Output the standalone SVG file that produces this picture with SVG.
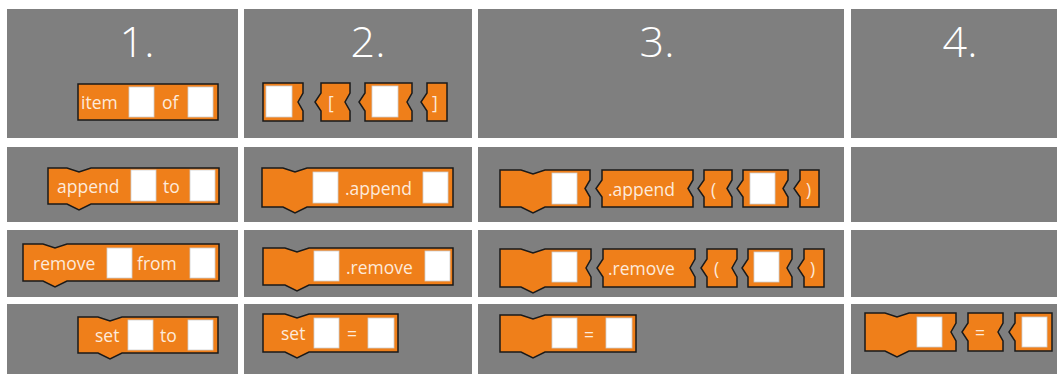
<svg xmlns="http://www.w3.org/2000/svg" width="1057" height="374" viewBox="0 0 1057 374">
<style>
.cell{fill:#7f7f7f}
.hdr{font-family:"Open Sans","Noto Sans",sans-serif;font-weight:300;font-size:43px;fill:#ffffff;text-anchor:middle}
.blk{fill:#ef7f1a;stroke:#1a1a1a;stroke-width:1.5;stroke-linejoin:miter}
.box{fill:#ffffff;stroke:#d0d0d0;stroke-width:0.8}
.lbl{font-family:"Open Sans","Noto Sans",sans-serif;font-size:17.5px;fill:#fdeadb}
</style>
<rect width="1057" height="374" fill="#ffffff"/>
<g id="grid">
<rect class="cell" x="7" y="9" width="231" height="129"/>
<rect class="cell" x="244" y="9" width="228" height="129"/>
<rect class="cell" x="478" y="9" width="366" height="129"/>
<rect class="cell" x="851" y="9" width="206" height="129"/>
<rect class="cell" x="7" y="147" width="231" height="75"/>
<rect class="cell" x="244" y="147" width="228" height="75"/>
<rect class="cell" x="478" y="147" width="366" height="75"/>
<rect class="cell" x="851" y="147" width="206" height="75"/>
<rect class="cell" x="7" y="230" width="231" height="67"/>
<rect class="cell" x="244" y="230" width="228" height="67"/>
<rect class="cell" x="478" y="230" width="366" height="67"/>
<rect class="cell" x="851" y="230" width="206" height="67"/>
<rect class="cell" x="7" y="304" width="231" height="70"/>
<rect class="cell" x="244" y="304" width="228" height="70"/>
<rect class="cell" x="478" y="304" width="366" height="70"/>
<rect class="cell" x="851" y="304" width="206" height="70"/>
</g>
<g id="headers">
<text class="hdr" x="137" y="57">1.</text>
<text class="hdr" x="368" y="57">2.</text>
<text class="hdr" x="657" y="57">3.</text>
<text class="hdr" x="960" y="57">4.</text>
</g>
<g id="r1c1-item">
<rect class="blk" x="78" y="84" width="140" height="36"/>
<text class="lbl" x="81" y="109">item</text>
<rect class="box" x="129" y="87" width="25" height="30"/>
<text class="lbl" x="162" y="109">of</text>
<rect class="box" x="188" y="87" width="25" height="30"/>
</g>
<g id="r1c2-index">
<path class="blk" d="M263 83 H303 V93 L298 102 L303 111 V121 H263 Z"/>
<rect class="box" x="266" y="86" width="26" height="31"/>
<path class="blk" d="M321 83 H350 V93 L345 102 L350 111 V121 H321 V111 L315 102 L321 93 Z"/>
<text class="lbl" x="328" y="109">[</text>
<path class="blk" d="M365 83 H412 V93 L407 102 L412 111 V121 H365 V111 L359 102 L365 93 Z"/>
<rect class="box" x="372" y="86" width="26" height="31"/>
<path class="blk" d="M427 83 H447 V121 H427 V111 L421 102 L427 93 Z"/>
<text class="lbl" x="432" y="109">]</text>
</g>
<g id="r2c1-append">
<path class="blk" d="M48 168 H67 L79 172 L91 168 H219 V204 H91 L79 210 L67 204 H48 Z"/>
<text class="lbl" x="57" y="193">append</text>
<rect class="box" x="131" y="170" width="25" height="31"/>
<text class="lbl" x="163" y="193">to</text>
<rect class="box" x="190" y="170" width="25" height="31"/>
</g>
<g id="r2c2-append">
<path class="blk" d="M262 168 H283 L295 172 L307 168 H453 V207 H307 L295 213 L283 207 H262 Z"/>
<rect class="box" x="313" y="172" width="25" height="31"/>
<text class="lbl" x="345" y="194.5">.append</text>
<rect class="box" x="423" y="172" width="25" height="31"/>
</g>
<g id="r2c3-append">
<path class="blk" d="M500 170 H521 L533 174 L545 170 H590 V180 L585 188.5 L590 197 V207 H545 L533 213 L521 207 H500 Z"/>
<rect class="box" x="552" y="173" width="25" height="31"/>
<path class="blk" d="M602 170 H693 V180 L688 188.5 L693 197 V207 H602 V197 L596 188.5 L602 180 Z"/>
<text class="lbl" x="608" y="195.5">.append</text>
<path class="blk" d="M704 170 H732 V180 L727 188.5 L732 197 V207 H704 V197 L698 188.5 L704 180 Z"/>
<text class="lbl" x="711" y="195.5">(</text>
<path class="blk" d="M743 170 H788 V180 L783 188.5 L788 197 V207 H743 V197 L737 188.5 L743 180 Z"/>
<rect class="box" x="750" y="173" width="25" height="31"/>
<path class="blk" d="M800 170 H819 V207 H800 V197 L794 188.5 L800 180 Z"/>
<text class="lbl" x="806" y="195.5">)</text>
</g>
<g id="r3c1-remove">
<path class="blk" d="M23 244 H43 L55 248 L67 244 H219 V281 H67 L55 287 L43 281 H23 Z"/>
<text class="lbl" x="33" y="269.5">remove</text>
<rect class="box" x="107" y="248" width="25" height="30"/>
<text class="lbl" x="137" y="269.5">from</text>
<rect class="box" x="190" y="248" width="25" height="30"/>
</g>
<g id="r3c2-remove">
<path class="blk" d="M263 248 H285 L297 252 L309 248 H453 V285 H309 L297 291 L285 285 H263 Z"/>
<rect class="box" x="314" y="251" width="25" height="30"/>
<text class="lbl" x="346" y="273.5">.remove</text>
<rect class="box" x="425" y="251" width="25" height="30"/>
</g>
<g id="r3c3-remove">
<path class="blk" d="M500 249 H521 L533 253 L545 249 H591 V259 L586 268 L591 277 V287 H545 L533 293 L521 287 H500 Z"/>
<rect class="box" x="552" y="252" width="25" height="30"/>
<path class="blk" d="M603 249 H695 V259 L690 268 L695 277 V287 H603 V277 L597 268 L603 259 Z"/>
<text class="lbl" x="608" y="275">.remove</text>
<path class="blk" d="M707 249 H737 V259 L732 268 L737 277 V287 H707 V277 L701 268 L707 259 Z"/>
<text class="lbl" x="714" y="275">(</text>
<path class="blk" d="M748 249 H792 V259 L787 268 L792 277 V287 H748 V277 L742 268 L748 259 Z"/>
<rect class="box" x="754" y="252" width="25" height="30"/>
<path class="blk" d="M804 249 H824 V287 H804 V277 L798 268 L804 259 Z"/>
<text class="lbl" x="810" y="275">)</text>
</g>
<g id="r4c1-set">
<path class="blk" d="M78 317 H98 L110 321 L122 317 H218 V353 H122 L110 359 L98 353 H78 Z"/>
<text class="lbl" x="95" y="342">set</text>
<rect class="box" x="128" y="320" width="25" height="30"/>
<text class="lbl" x="160" y="342">to</text>
<rect class="box" x="188" y="320" width="25" height="30"/>
</g>
<g id="r4c2-set">
<path class="blk" d="M263 314 H285 L297 318 L309 314 H398 V352 H309 L297 358 L285 352 H263 Z"/>
<text class="lbl" x="281" y="340">set</text>
<rect class="box" x="314" y="318" width="25" height="30"/>
<text class="lbl" x="347" y="340">=</text>
<rect class="box" x="368" y="318" width="26" height="30"/>
</g>
<g id="r4c3-assign">
<path class="blk" d="M500 315 H521 L533 319 L545 315 H636 V352 H545 L533 358 L521 352 H500 Z"/>
<rect class="box" x="552" y="318" width="25" height="30"/>
<text class="lbl" x="584" y="340.5">=</text>
<rect class="box" x="606" y="318" width="26" height="30"/>
</g>
<g id="r4c4-assign">
<path class="blk" d="M865 313 H885 L897 317 L909 313 H956 V323 L951 332 L956 341 V351 H909 L897 357 L885 351 H865 Z"/>
<rect class="box" x="917" y="317" width="25" height="30"/>
<path class="blk" d="M968 313 H1003 V323 L998 332 L1003 341 V351 H968 V341 L962 332 L968 323 Z"/>
<text class="lbl" x="975" y="339">=</text>
<path class="blk" d="M1015 313 H1052 V351 H1015 V341 L1009 332 L1015 323 Z"/>
<rect class="box" x="1022" y="317" width="25" height="30"/>
</g>
</svg>
